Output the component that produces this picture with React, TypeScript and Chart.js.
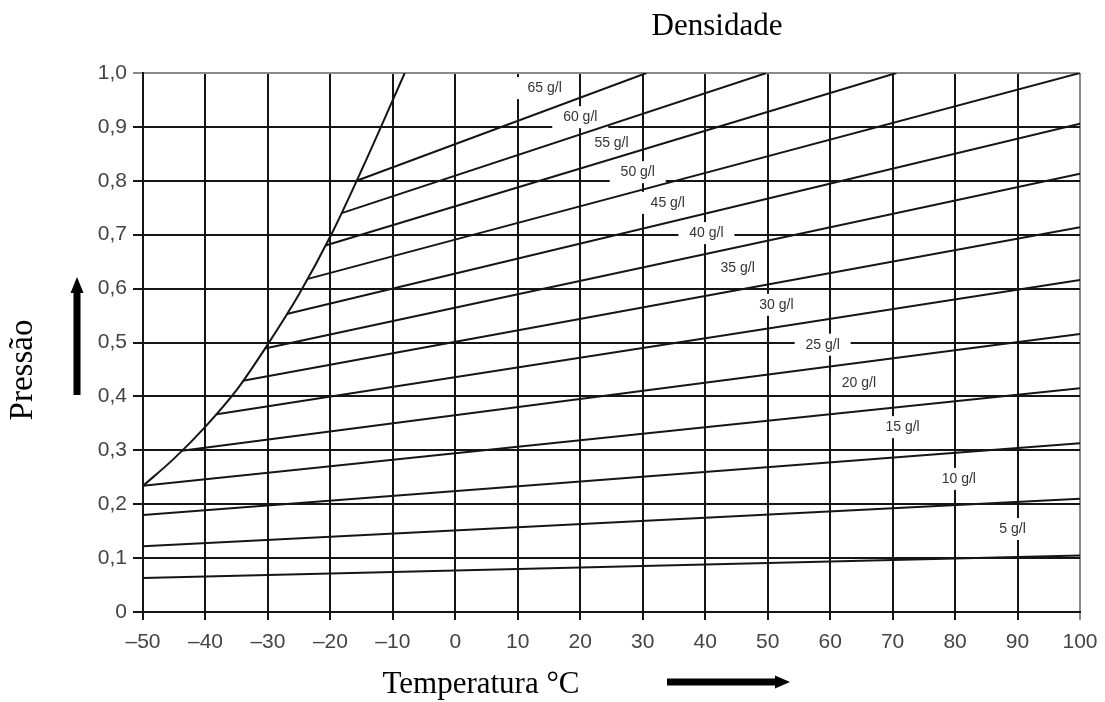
import React, { useEffect, useRef } from "react";
import { Chart, registerables } from "chart.js";

Chart.register(...registerables);

// ---- data ----
const densityLabels = ["5 g/l", "10 g/l", "15 g/l", "20 g/l", "25 g/l", "30 g/l", "35 g/l", "40 g/l", "45 g/l", "50 g/l", "55 g/l", "60 g/l", "65 g/l"];
const startT = [-50, -50, -50, -50, -43.8, -38.2, -34, -30.5, -27, -23.6, -20.8, -18.2, -15.8];
const startP = [0.063, 0.122, 0.18, 0.234, 0.299, 0.367, 0.429, 0.489, 0.553, 0.618, 0.68, 0.74, 0.8];
const endT = [100, 100, 100, 100, 100, 100, 100, 100, 100, 100, 70.6, 49.8, 30.6];
const endP = [0.105, 0.21, 0.313, 0.415, 0.516, 0.616, 0.714, 0.813, 0.906, 1.0, 1.0, 1.0, 1.0];

// saturation (liquefaction) curve
const curveT = [-50, -45, -40, -35, -30, -25, -20, -15, -10, -8.1];
const curveP = [0.234, 0.285, 0.344, 0.412, 0.497, 0.59, 0.697, 0.82, 0.95, 1.0];

// label anchors (data coordinates)
const labelT = [89.2, 80.6, 71.6, 64.6, 58.8, 51.4, 45.2, 40.2, 34.0, 29.2, 25.0, 20.0, 14.3];
const labelP = [0.154, 0.247, 0.343, 0.425, 0.496, 0.57, 0.638, 0.703, 0.759, 0.816, 0.87, 0.918, 0.972];

const xTickLabels = ["–50", "–40", "–30", "–20", "–10", "0", "10", "20", "30", "40", "50", "60", "70", "80", "90", "100"];
const yTickLabels = ["0", "0,1", "0,2", "0,3", "0,4", "0,5", "0,6", "0,7", "0,8", "0,9", "1,0"];

const titleTop = "Densidade";
const titleX = "Temperatura °C";
const titleY = "Pressão";

const SANS = "'Liberation Sans', Arial, sans-serif";
const SERIF = "'Liberation Serif', 'Times New Roman', serif";
const LINE = "#151515";

const labelPlugin = {
  id: "densityLabels",
  beforeDatasetsDraw(chart: any) {
    const { ctx, scales } = chart;
    const xs = scales.x;
    const ys = scales.y;
    ctx.save();
    ctx.font = `14px ${SANS}`;
    ctx.textAlign = "center";
    ctx.textBaseline = "middle";
    for (let i = 0; i < densityLabels.length; i++) {
      const px = xs.getPixelForValue(labelT[i]);
      const py = ys.getPixelForValue(labelP[i]);
      ctx.fillStyle = "#ffffff";
      ctx.fillRect(px - 28, py - 11, 56, 22);
      ctx.fillStyle = "#333333";
      ctx.fillText(densityLabels[i], px, py);
    }
    ctx.restore();
  },
  afterDraw(chart: any) {
    const { ctx } = chart;
    ctx.save();
    ctx.fillStyle = "#000";
    ctx.font = `31px ${SERIF}`;
    ctx.textAlign = "center";
    ctx.textBaseline = "alphabetic";
    ctx.fillText(titleTop, 717, 35);
    ctx.fillText(titleX, 481, 693);
    ctx.save();
    ctx.font = `33px ${SERIF}`;
    ctx.translate(32, 370);
    ctx.rotate(-Math.PI / 2);
    ctx.fillText(titleY, 0, 0);
    ctx.restore();
    // up arrow
    ctx.fillStyle = "#000";
    ctx.fillRect(73.5, 290, 7, 105);
    ctx.beginPath();
    ctx.moveTo(77, 277);
    ctx.lineTo(83.5, 293);
    ctx.lineTo(70.5, 293);
    ctx.closePath();
    ctx.fill();
    // right arrow
    ctx.fillRect(667, 678.5, 110, 7);
    ctx.beginPath();
    ctx.moveTo(790, 682);
    ctx.lineTo(775, 675.5);
    ctx.lineTo(775, 688.5);
    ctx.closePath();
    ctx.fill();
    ctx.restore();
  },
};

export default function App() {
  const canvasRef = useRef<HTMLCanvasElement | null>(null);

  useEffect(() => {
    const canvas = canvasRef.current;
    if (!canvas) return;

    const datasets: any[] = densityLabels.map((lbl, i) => ({
      label: lbl,
      data: [
        { x: startT[i], y: startP[i] },
        { x: endT[i], y: endP[i] },
      ],
      showLine: true,
      borderColor: LINE,
      borderWidth: 2,
      pointRadius: 0,
      fill: false,
    }));
    datasets.push({
      label: "curve",
      data: curveT.map((t, i) => ({ x: t, y: curveP[i] })),
      showLine: true,
      borderColor: LINE,
      borderWidth: 2,
      pointRadius: 0,
      cubicInterpolationMode: "monotone",
      fill: false,
    });

    const gridColor = (c: any) => {
      const v = c.tick ? c.tick.value : null;
      return v === 100 ? "#8a8a8a" : LINE;
    };
    const gridColorY = (c: any) => {
      const v = c.tick ? c.tick.value : null;
      return v !== null && Math.abs(v - 1) < 1e-6 ? "#8a8a8a" : LINE;
    };

    const chart = new Chart(canvas, {
      type: "scatter",
      data: { datasets },
      plugins: [labelPlugin],
      options: {
        responsive: false,
        animation: false,
        devicePixelRatio: 1,
        layout: { padding: { top: 73, right: 25, bottom: 0, left: 0 } },
        plugins: {
          legend: { display: false },
          tooltip: { enabled: false },
          title: { display: false },
        },
        scales: {
          x: {
            type: "linear",
            min: -50,
            max: 100,
            afterFit: (s: any) => {
              s.height = 90;
              s.paddingLeft = 0;
              s.paddingRight = 0;
            },
            ticks: {
              stepSize: 10,
              autoSkip: false,
              maxRotation: 0,
              padding: 10,
              color: "#444",
              font: { family: SANS, size: 21 },
              callback: (_v: any, i: number) => xTickLabels[i],
            },
            grid: { color: gridColor, lineWidth: 2, tickLength: 8 },
            border: { display: true, color: LINE, width: 2 },
          },
          y: {
            type: "linear",
            min: 0,
            max: 1,
            afterFit: (s: any) => {
              s.width = 143;
              s.paddingTop = 0;
              s.paddingBottom = 0;
            },
            ticks: {
              stepSize: 0.1,
              autoSkip: false,
              padding: 6,
              color: "#444",
              font: { family: SANS, size: 21 },
              callback: (_v: any, i: number) => yTickLabels[i],
            },
            grid: { color: gridColorY, lineWidth: 2, tickLength: 10 },
            border: { display: true, color: LINE, width: 2 },
          },
        },
      } as any,
    });

    return () => chart.destroy();
  }, []);

  return (
    <div style={{ position: "absolute", left: 0, top: 0, width: 1105, height: 702, background: "#fff" }}>
      <canvas ref={canvasRef} width={1105} height={702} style={{ display: "block" }} />
    </div>
  );
}
